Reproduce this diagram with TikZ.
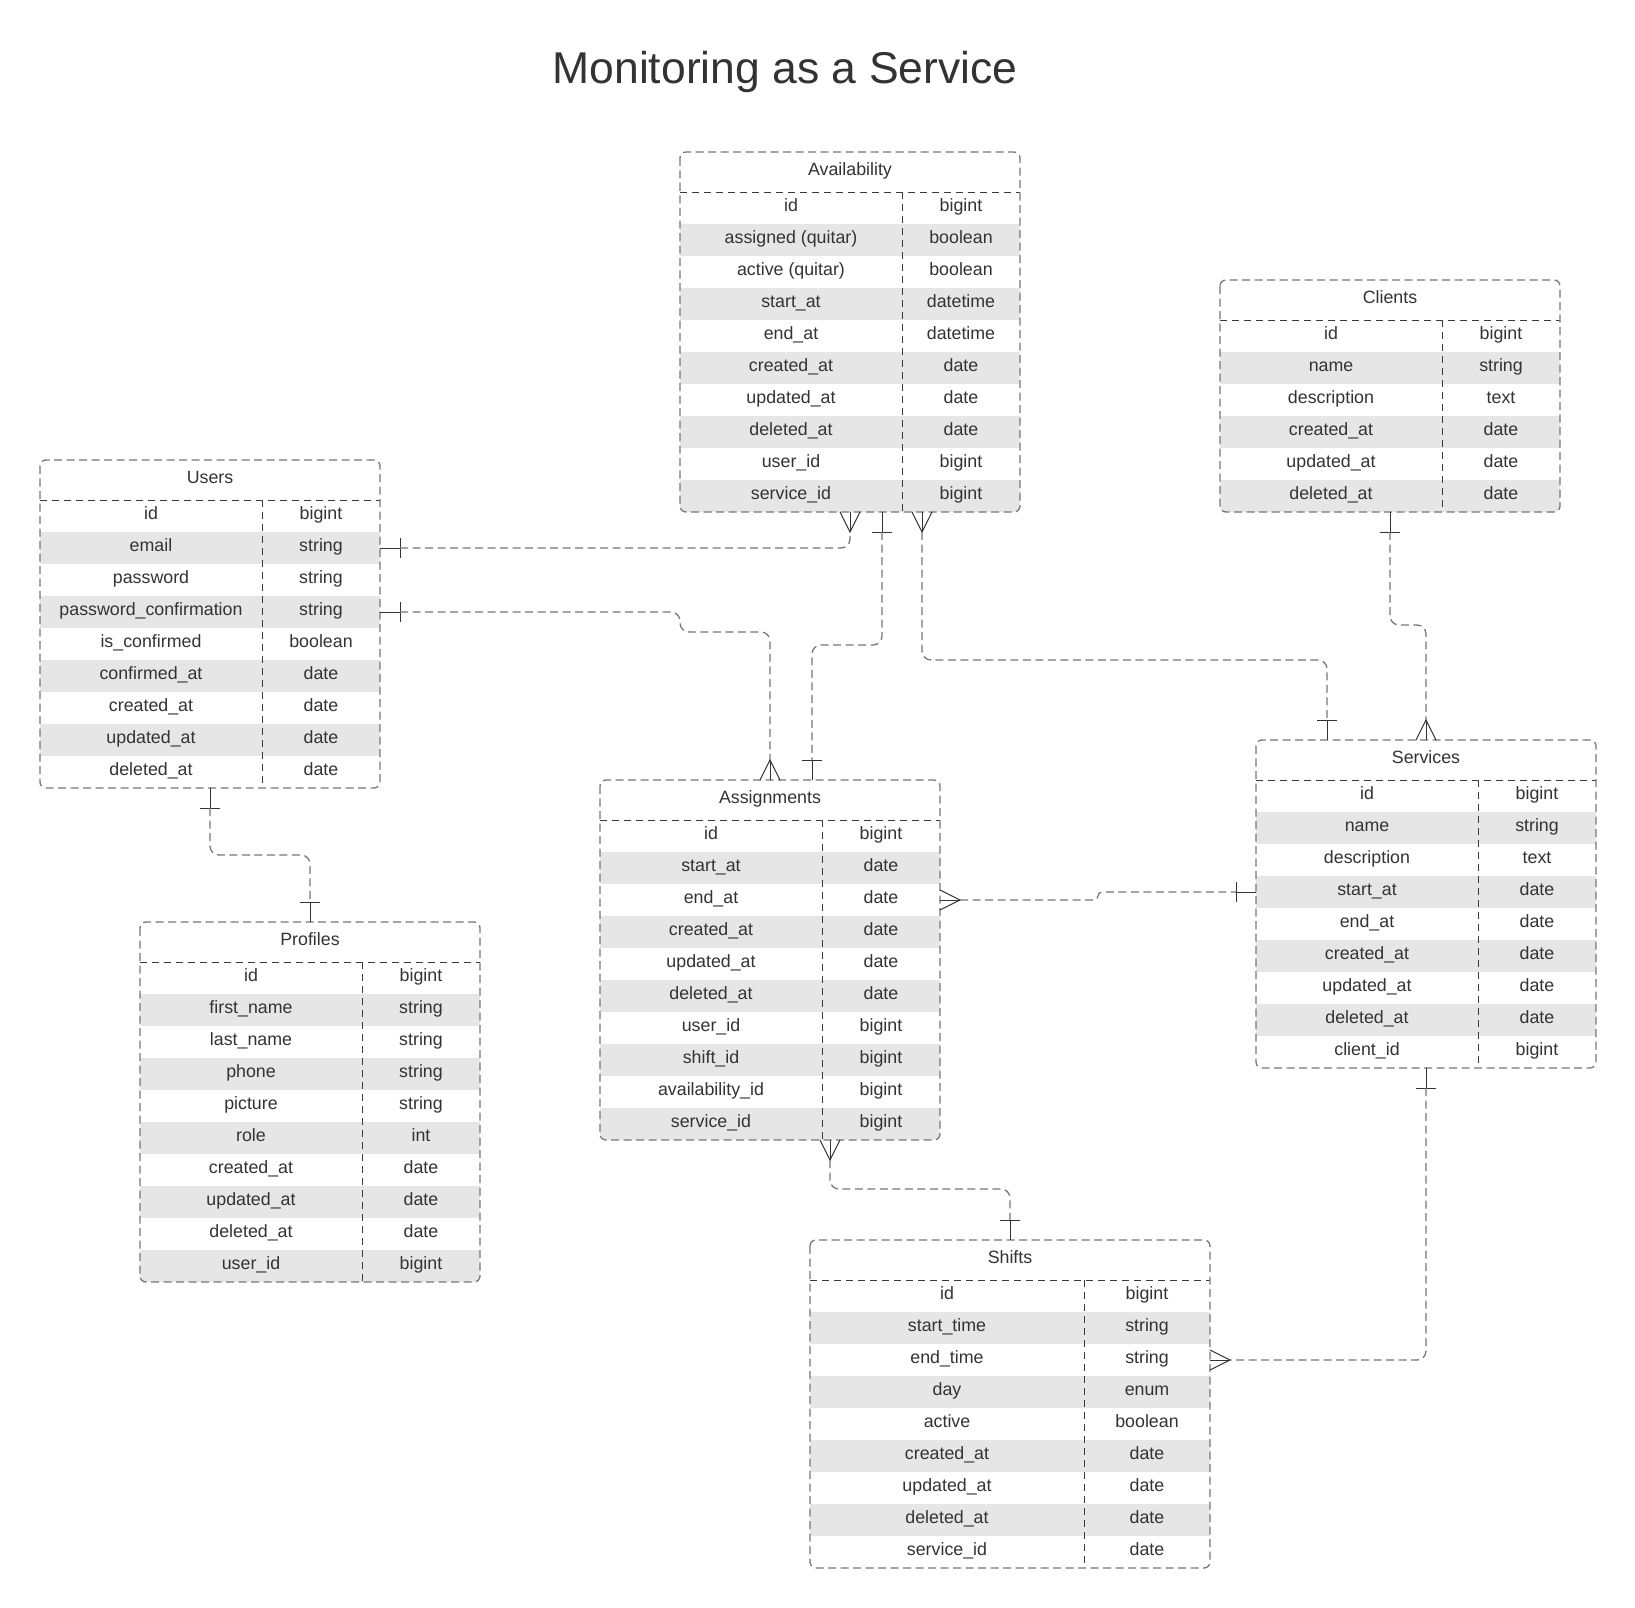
\documentclass[tikz,border=0pt]{standalone}
\usepackage{fontspec}
\setmainfont{Liberation Sans}
\usetikzlibrary{calc}
\definecolor{txt}{HTML}{333333}
\definecolor{bord}{HTML}{777777}
\definecolor{sepc}{HTML}{3A3A3A}
\definecolor{shade}{HTML}{E6E6E6}
\definecolor{connc}{HTML}{777777}
\tikzset{
  tabborder/.style={draw=bord, line width=1.3pt, dash pattern=on 8pt off 4.5pt, rounded corners=6pt},
  tabline/.style={draw=sepc, line width=0.9pt, dash pattern=on 7pt off 5pt},
  cell/.style={anchor=base, inner sep=0pt, text=txt, font=\fontsize{17.8}{20}\selectfont},
  rowbox/.style={inner sep=0pt, outer sep=0pt, minimum height=32pt, draw=none},
  relline/.style={draw=connc, line width=1.3pt, dash pattern=on 8pt off 4.5pt, rounded corners=9pt},
  endmark/.style={draw=txt, line width=1pt},
}
% #1 name #2 left #3 top #4 width #5 left col width #6 nrows #7 title #8 rows
\newcommand\erdtable[8]{%
  \pgfmathsetmacro\tabH{40+32*#6}%
  \node[rowbox, minimum width=#4pt, minimum height=\tabH pt] (#1) at (#2+#4/2, #3+\tabH/2) {};
  \begin{scope}
    \clip[rounded corners=6pt] (#2,#3) rectangle ++(#4,\tabH);
    \foreach[count=\i] \a/\b in {#8} {
      \pgfmathsetmacro\yc{#3+40+32*\i-16}
      \ifodd\i \def\fc{white}\else\def\fc{shade}\fi
      \node[rowbox, fill=\fc, minimum width=#4pt] (#1-\i) at (#2+#4/2,\yc) {};
      \node[cell] at (#2+#5/2, \yc+3.5) {\a};
      \node[cell] at (#2+#5+#4/2-#5/2, \yc+3.5) {\b};
    }
  \end{scope}
  \node[cell] (#1-title) at (#2+#4/2, #3+23.5) {#7};
  \draw[tabline] (#2,#3+40) -- ++(#4,0);
  \draw[tabline] (#2+#5,#3+40) -- (#2+#5,#3+\tabH);
  \draw[tabborder] (#2,#3) rectangle ++(#4,\tabH);
}
\newcommand\onemark[2]{%
  \draw[endmark] (#1) -- ($(#1)+(#2:20pt)$);
  \draw[endmark] ($(#1)+(#2:20pt)+(#2+90:10pt)$) -- ($(#1)+(#2:20pt)+(#2-90:10pt)$);
}
\newcommand\manymark[2]{%
  \draw[endmark] (#1) -- ($(#1)+(#2:20pt)$);
  \draw[endmark] ($(#1)+(#2+90:10pt)$) -- ($(#1)+(#2:20pt)$) -- ($(#1)+(#2-90:10pt)$);
}
\begin{document}
\begin{tikzpicture}[x=1pt, y=-1pt]
\fill[white] (0,0) rectangle (1635,1608);
\useasboundingbox (0,0) rectangle (1635,1608);

\node[anchor=base, inner sep=0pt, text=txt, font=\fontsize{44.5}{50}\selectfont] (title) at (785,84) {Monitoring as a Service};

\erdtable{avail}{680}{152}{340}{222}{10}{Availability}{id/bigint, assigned (quitar)/boolean, active (quitar)/boolean, start\_at/datetime, end\_at/datetime, created\_at/date, updated\_at/date, deleted\_at/date, user\_id/bigint, service\_id/bigint}

\erdtable{clients}{1220}{280}{340}{222}{6}{Clients}{id/bigint, name/string, description/text, created\_at/date, updated\_at/date, deleted\_at/date}

\erdtable{users}{40}{460}{340}{222}{9}{Users}{id/bigint, email/string, password/string, password\_confirmation/string, is\_confirmed/boolean, confirmed\_at/date, created\_at/date, updated\_at/date, deleted\_at/date}

\erdtable{profiles}{140}{922}{340}{222}{10}{Profiles}{id/bigint, first\_name/string, last\_name/string, phone/string, picture/string, role/int, created\_at/date, updated\_at/date, deleted\_at/date, user\_id/bigint}

\erdtable{assign}{600}{780}{340}{222}{10}{Assignments}{id/bigint, start\_at/date, end\_at/date, created\_at/date, updated\_at/date, deleted\_at/date, user\_id/bigint, shift\_id/bigint, availability\_id/bigint, service\_id/bigint}

\erdtable{services}{1256}{740}{340}{222}{9}{Services}{id/bigint, name/string, description/text, start\_at/date, end\_at/date, created\_at/date, updated\_at/date, deleted\_at/date, client\_id/bigint}

\erdtable{shifts}{810}{1240}{400}{274}{9}{Shifts}{id/bigint, start\_time/string, end\_time/string, day/enum, active/boolean, created\_at/date, updated\_at/date, deleted\_at/date, service\_id/date}

% anchor points on table edges
\coordinate (a3) at ($(avail.south)+(32,0)$);
\coordinate (a4) at ($(avail.south)+(72,0)$);
\coordinate (as2) at ($(assign.north)+(42,0)$);
\coordinate (as5) at ($(assign.south)+(60,0)$);
\coordinate (s1) at ($(services.north)+(-99,0)$);

% 1 Users email -> Availability
\onemark{users-2.east}{0}
\manymark{avail.south}{-90}
\draw[relline] ($(users-2.east)+(20,0)$) -| ($(avail.south)+(0,20)$);

% 2 Users password_confirmation -> Assignments
\onemark{users-4.east}{0}
\manymark{assign.north}{90}
\draw[relline] ($(users-4.east)+(20,0)$) -- ++(280,0) -- ++(0,20) -| ($(assign.north)+(0,-20)$);

% 3 Availability -> Assignments
\onemark{a3}{-90}
\onemark{as2}{90}
\draw[relline] ($(a3)+(0,20)$) -- ++(0,113) -| ($(as2)+(0,-20)$);

% 4 Availability -> Services
\manymark{a4}{-90}
\onemark{s1}{90}
\draw[relline] ($(a4)+(0,20)$) -- ++(0,128) -| ($(s1)+(0,-20)$);

% 5 Clients -> Services
\onemark{clients.south}{-90}
\manymark{services.north}{90}
\draw[relline] ($(clients.south)+(0,20)$) -- ++(0,93) -| ($(services.north)+(0,-20)$);

% 6 Assignments end_at -> Services start_at
\manymark{assign-3.east}{0}
\onemark{services-4.west}{180}
\draw[relline, rounded corners=4pt] ($(assign-3.east)+(20,0)$) -- ++(138,0) -- ++(0,-8) -- ($(services-4.west)+(-20,0)$);

% 7 Assignments -> Shifts
\manymark{as5}{-90}
\onemark{shifts.north}{90}
\draw[relline] ($(as5)+(0,20)$) -- ++(0,29) -| ($(shifts.north)+(0,-20)$);

% 8 Services -> Shifts end_time
\onemark{services.south}{-90}
\manymark{shifts-3.east}{0}
\draw[relline] ($(services.south)+(0,20)$) |- ($(shifts-3.east)+(20,0)$);

% 9 Users -> Profiles
\onemark{users.south}{-90}
\onemark{profiles.north}{90}
\draw[relline] ($(users.south)+(0,20)$) -- ++(0,47) -| ($(profiles.north)+(0,-20)$);
\end{tikzpicture}
\end{document}
